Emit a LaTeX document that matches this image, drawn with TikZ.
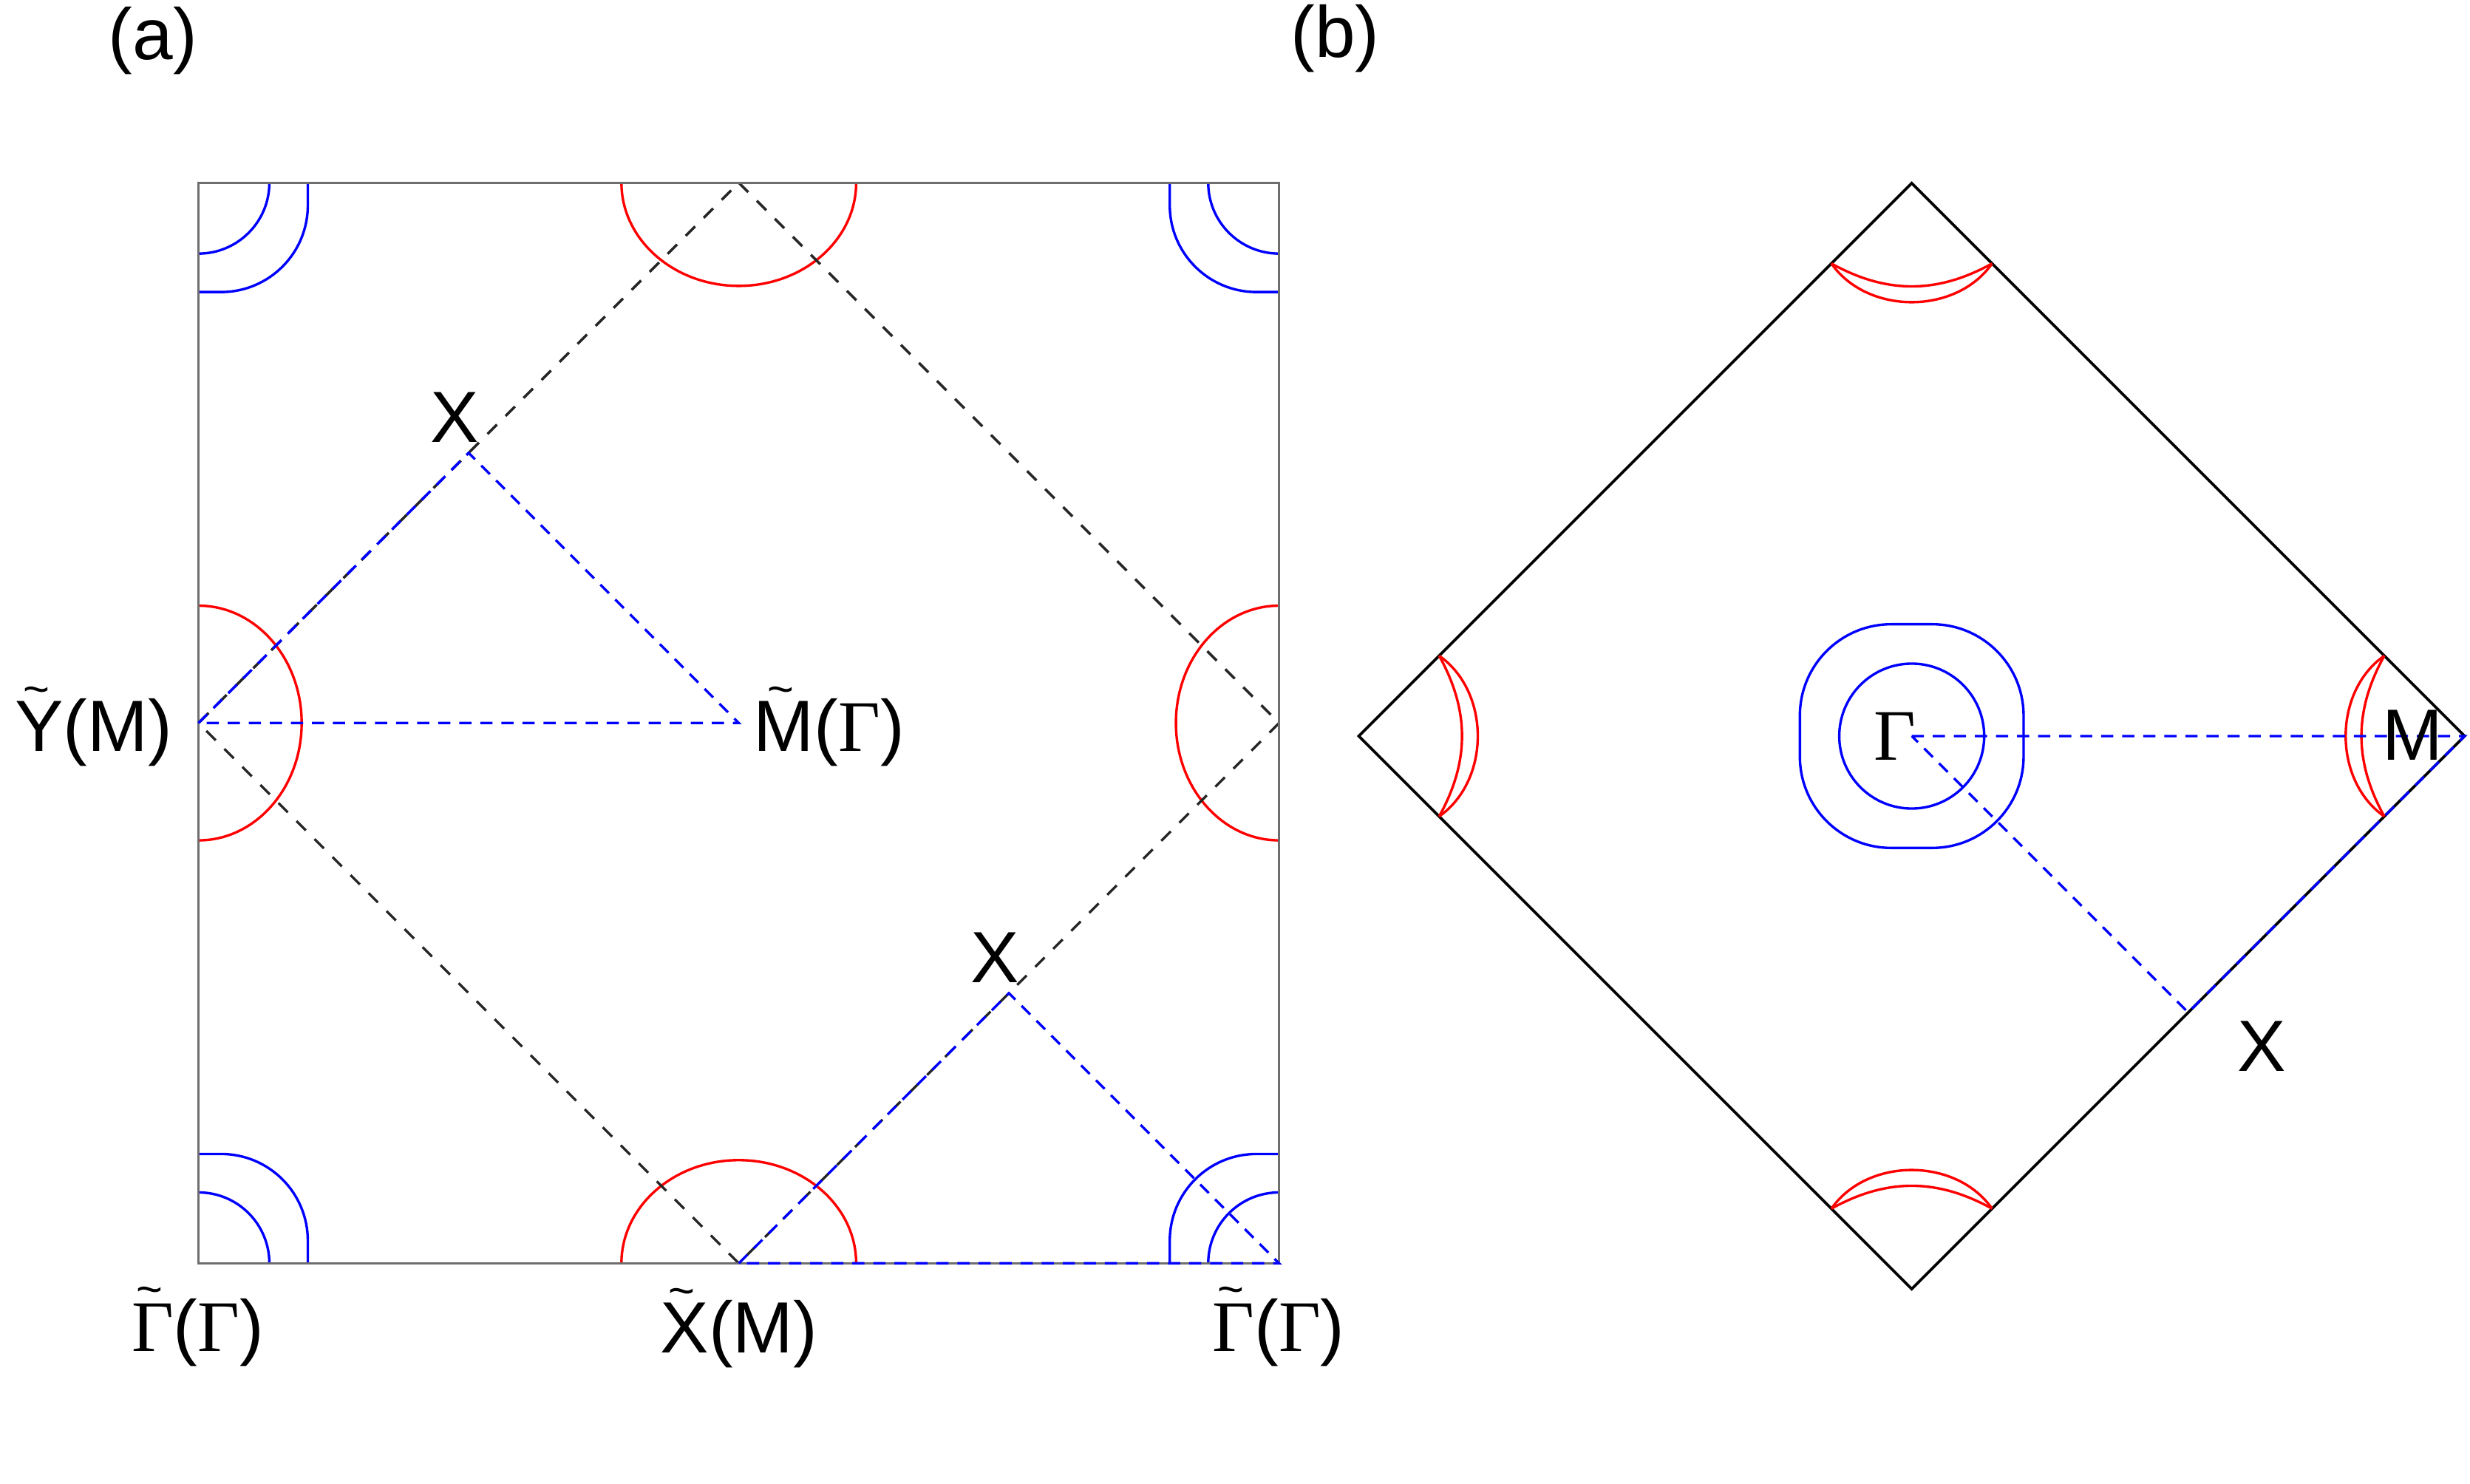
\documentclass[tikz,border=0pt]{standalone}
\usepackage{fontspec}
\setmainfont{Liberation Sans}
\newfontfamily\gfont{Liberation Serif}
\usetikzlibrary{calc}
\newcommand\Gam{{\gfont Γ}}
\newcommand\tld[1]{\leavevmode\setbox0\hbox{#1}\rlap{\hbox to\wd0{\hss\raisebox{8.4pt}{\fontsize{8.2}{8.2}\selectfont\char"7E}\hss\kern1pt}}#1}
% rounded-square pocket: #1 centre, #2 half side, #3 corner radius
\newcommand\rrpocket[3]{%
  \draw[bluel, shift={(#1)}] (-#2,{-#2+#3}) -- (-#2,{#2-#3})
    arc[start angle=180, end angle=90, radius=#3] -- ({#2-#3},#2)
    arc[start angle=90, end angle=0, radius=#3] -- (#2,{-#2+#3})
    arc[start angle=0, end angle=-90, radius=#3] -- ({-#2+#3},-#2)
    arc[start angle=-90, end angle=-180, radius=#3] -- cycle;}
\definecolor{boxgray}{RGB}{110,110,110}
\tikzset{
  lab/.style={inner sep=0pt, anchor=base, font=\fontsize{13.1}{15}\selectfont},
  redl/.style={draw={rgb,255:red,255;green,0;blue,0}, line width=0.45pt},
  bluel/.style={draw={rgb,255:red,0;green,0;blue,255}, line width=0.45pt},
  bkdash/.style={draw=black!85, line width=0.45pt, dash pattern=on 2.4pt off 2.2pt},
  bldash/.style={draw={rgb,255:red,0;green,0;blue,255}, line width=0.45pt, dash pattern=on 2.2pt off 1.6pt},
  boxl/.style={draw=boxgray, line width=0.45pt},
  bkline/.style={draw=black, line width=0.5pt},
}
\begin{document}
\begin{tikzpicture}[x=0.01cm, y=-0.01cm]
\useasboundingbox (0,0) rectangle (1568,942);
% ---------------- panel (a) ----------------
\coordinate (TL) at (126,116); \coordinate (TR) at (812,116);
\coordinate (BL) at (126,802); \coordinate (BR) at (812,802);
\coordinate (Tm) at (469,116); \coordinate (Rm) at (812,459);
\coordinate (Bm) at (469,802); \coordinate (Lm) at (126,459);
\coordinate (Cm) at (469,459);
\coordinate (Xa) at (297.5,287.5); \coordinate (Xb) at (640.5,630.5);
\begin{scope}
  \clip (TL) rectangle (BR);
  \foreach \c in {Tm,Bm} \draw[redl] (\c) ellipse [x radius=74.5, y radius=65.5];
  \foreach \c in {Lm,Rm} \draw[redl] (\c) ellipse [x radius=65.5, y radius=74.5];
  \foreach \c in {TL,TR,BL,BR} {
    \draw[bluel] (\c) circle [radius=45];
    \rrpocket{\c}{69.4}{55}
  }
\end{scope}
\draw[bkdash] (Tm) -- (Rm) -- (Bm) -- (Lm) -- cycle;
\draw[boxl] (TL) rectangle (BR);
\draw[bldash] (Lm) -- (Xa) -- (Cm) -- cycle;
\draw[bldash] (Bm) -- (Xb) -- (BR) -- cycle;
\node[lab] (la) at (97.1,37.7) {(a)};
\node[lab] (ly) at (59.4,477) {\tld{Y}(M)};
\node[lab] (lmt) at (526.3,477) {\tld{M}(\Gam)};
\node[lab] (lg1) at (125.5,858) {\tld{\Gam}(\Gam)};
\node[lab] (lxm) at (469.2,859) {\tld{X}(M)};
\node[lab] (lg2) at (811.7,858) {\tld{\Gam}(\Gam)};
\node[lab] (lx1) at (288.5,280.7) {X};
\node[lab] (lx2) at (631.5,623.7) {X};
% ---------------- panel (b) ----------------
\coordinate (Gc) at (1213.6,467.3);
\coordinate (Vt) at (1213.6,116.3); \coordinate (Vr) at (1564.6,467.3);
\coordinate (Vb) at (1213.6,818.3); \coordinate (Vl) at (862.6,467.3);
\coordinate (Xc) at ($(Vr)!0.5!(Vb)$);
\draw[bkline] (Vt) -- (Vr) -- (Vb) -- (Vl) -- cycle;
\draw[bluel] (Gc) circle [radius=46];
\rrpocket{Gc}{71}{58}
\foreach \r in {0,90,180,270} {
  \begin{scope}[shift={(Gc)}, rotate=\r]
    \draw[redl] (300,-51) .. controls (267.3,-28.1) and (267.3,28.1) .. (300,51);
    \draw[redl] (300,-51) .. controls (280.65,-16.1) and (280.65,16.1) .. (300,51);
  \end{scope}
}
\draw[bldash] (Gc) -- (Vr) -- (Xc) -- cycle;
\node[lab] (lb) at (847.5,36.5) {(b)};
\node[lab] (lgam) at (1203,482.4) {\Gam};
\node[lab] (lm) at (1531.5,482.5) {M};
\node[lab] (lx3) at (1435.6,680.3) {X};
\end{tikzpicture}
\end{document}
